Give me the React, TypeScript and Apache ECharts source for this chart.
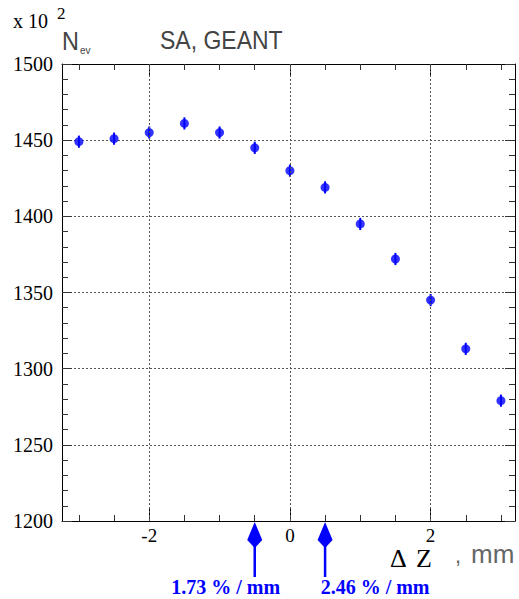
import React, { useEffect, useRef } from "react";
import * as echarts from "echarts";

const xValues = [-3, -2.5, -2, -1.5, -1, -0.5, 0, 0.5, 1, 1.5, 2, 2.5, 3];
const nEv = [1449, 1451, 1455, 1461, 1455, 1445, 1430, 1419, 1395, 1372, 1345, 1313, 1279];
const nEvErr = [4, 4, 4, 4, 4, 4, 4, 4, 4, 4, 4, 4, 4];
const xMajorTicks = [-2, 0, 2];
const xMinorTicks = [-3, -2.5, -2, -1.5, -1, -0.5, 0, 0.5, 1, 1.5, 2, 2.5, 3];
const xGrid = [-2, 0, 2];
const arrowX = [-0.5, 0.5];
const arrowLabels = ["1.73 % / mm", "2.46 % / mm"];

const X_MIN = -3.24;
const X_MAX = 3.2;
const Y_MIN = 1200;
const Y_MAX = 1500;
const BLUE = "#0000ff";
const SERIF = "Liberation Serif";
const SANS = "Liberation Sans";

export default function App() {
  const ref = useRef<HTMLDivElement>(null);

  useEffect(() => {
    if (!ref.current) return;
    const chart = echarts.init(ref.current, undefined, { renderer: "svg" });

    const baseX = {
      type: "value",
      min: X_MIN,
      max: X_MAX,
      splitLine: { show: false },
    };

    const option: any = {
      animation: false,
      backgroundColor: "#ffffff",
      textStyle: { fontFamily: SERIF },
      grid: { left: 62, top: 64, right: 4, bottom: 78, containLabel: false },
      xAxis: [
        {
          ...baseX,
          position: "bottom",
          axisLine: { show: true, onZero: false, lineStyle: { color: "#000", width: 1 } },
          axisTick: {
            show: true,
            inside: true,
            length: 12,
            customValues: xMajorTicks,
            lineStyle: { color: "#000" },
          },
          axisLabel: {
            show: true,
            customValues: xMajorTicks,
            margin: 5,
            fontFamily: SERIF,
            fontSize: 19,
            lineHeight: 19,
            color: "#000",
            formatter: (v: number) => String(v),
          },
        },
        {
          ...baseX,
          position: "bottom",
          axisLine: { show: false },
          axisTick: {
            show: true,
            inside: true,
            length: 6,
            customValues: xMinorTicks,
            lineStyle: { color: "#333" },
          },
          axisLabel: { show: false },
        },
        {
          ...baseX,
          position: "top",
          axisLine: { show: true, onZero: false, lineStyle: { color: "#000", width: 1 } },
          axisTick: {
            show: true,
            inside: true,
            length: 12,
            customValues: xMajorTicks,
            lineStyle: { color: "#000" },
          },
          axisLabel: { show: false },
        },
        {
          ...baseX,
          position: "top",
          axisLine: { show: false },
          axisTick: {
            show: true,
            inside: true,
            length: 6,
            customValues: xMinorTicks,
            lineStyle: { color: "#333" },
          },
          axisLabel: { show: false },
        },
      ],
      yAxis: [
        {
          type: "value",
          min: Y_MIN,
          max: Y_MAX,
          interval: 50,
          position: "left",
          axisLine: { show: true, onZero: false, lineStyle: { color: "#000", width: 1 } },
          axisTick: { show: true, inside: true, length: 10, lineStyle: { color: "#333" } },
          minorTick: { show: true, splitNumber: 5, length: 6, lineStyle: { color: "#333" } },
          axisLabel: {
            show: true,
            margin: 9,
            fontFamily: SERIF,
            fontSize: 20,
            color: "#000",
            formatter: (v: number) => String(v),
          },
          splitLine: {
            show: true,
            lineStyle: { color: "#555", type: [2, 2], width: 1 },
          },
        },
        {
          type: "value",
          min: Y_MIN,
          max: Y_MAX,
          interval: 50,
          position: "right",
          axisLine: { show: true, onZero: false, lineStyle: { color: "#000", width: 1 } },
          axisTick: { show: true, inside: true, length: 10, lineStyle: { color: "#333" } },
          minorTick: { show: true, splitNumber: 5, length: 6, lineStyle: { color: "#333" } },
          axisLabel: { show: false },
          splitLine: { show: false },
        },
      ],
      series: [
        {
          type: "line",
          xAxisIndex: 0,
          yAxisIndex: 0,
          data: [],
          silent: true,
          markLine: {
            silent: true,
            symbol: "none",
            label: { show: false },
            lineStyle: { color: "#555", type: [2, 2], width: 1 },
            data: xGrid.map((v) => ({ xAxis: v })),
          },
        },
        {
          type: "custom",
          xAxisIndex: 0,
          yAxisIndex: 0,
          data: xValues.map((x, i) => [x, nEv[i], nEvErr[i]]),
          renderItem: (params: any, api: any) => {
            const x = api.value(0);
            const y = api.value(1);
            const e = api.value(2);
            const lo = api.coord([x, y - e]);
            const hi = api.coord([x, y + e]);
            return {
              type: "line",
              shape: { x1: lo[0], y1: lo[1], x2: hi[0], y2: hi[1] },
              style: { stroke: BLUE, lineWidth: 2 },
            };
          },
        },
        {
          type: "scatter",
          xAxisIndex: 0,
          yAxisIndex: 0,
          symbol: "circle",
          symbolSize: 9,
          itemStyle: { color: BLUE },
          data: xValues.map((x, i) => [x, nEv[i]]),
        },
        {
          type: "custom",
          xAxisIndex: 0,
          yAxisIndex: 0,
          clip: false,
          data: arrowX.map((x, i) => [x, i]),
          renderItem: (params: any, api: any) => {
            const x = api.value(0);
            const idx = api.value(1);
            const p = api.coord([x, Y_MIN]);
            const px = p[0];
            const py = p[1];
            const labelOffset = idx === 0 ? -29 : 50;
            return {
              type: "group",
              children: [
                {
                  type: "polygon",
                  shape: {
                    points: [
                      [px, py + 1],
                      [px + 7.5, py + 19],
                      [px, py + 27],
                      [px - 7.5, py + 19],
                    ],
                  },
                  style: { fill: BLUE },
                },
                {
                  type: "line",
                  shape: { x1: px, y1: py + 20, x2: px, y2: py + 56 },
                  style: { stroke: BLUE, lineWidth: 2.5 },
                },
                {
                  type: "text",
                  x: px + labelOffset,
                  y: py + 66,
                  style: {
                    text: arrowLabels[idx],
                    fill: BLUE,
                    fontFamily: SERIF,
                    fontWeight: "bold",
                    fontSize: 20,
                    align: "center",
                    verticalAlign: "middle",
                  },
                },
              ],
            };
          },
        },
      ],
      graphic: [
        {
          type: "text",
          left: 13,
          top: 11,
          style: { text: "x 10", fontFamily: SERIF, fontSize: 20, fill: "#000" },
        },
        {
          type: "text",
          left: 57,
          top: 5,
          style: { text: "2", fontFamily: SERIF, fontSize: 17, fill: "#000" },
        },
        {
          type: "text",
          x: 62,
          y: 28,
          scaleX: 0.9,
          style: { text: "N", fontFamily: SANS, fontSize: 26, fill: "#444" },
        },
        {
          type: "text",
          left: 80,
          top: 45,
          style: { text: "ev", fontFamily: SANS, fontSize: 10, fill: "#444" },
        },
        {
          type: "text",
          x: 160,
          y: 28,
          scaleX: 0.92,
          style: { text: "SA, GEANT", fontFamily: SANS, fontSize: 25, fill: "#444" },
        },
        {
          type: "text",
          left: 390,
          top: 545,
          style: { text: "Δ", fontFamily: SERIF, fontSize: 26, lineHeight: 22, fill: "#000" },
        },
        {
          type: "text",
          left: 416,
          top: 545,
          style: { text: "Z", fontFamily: SERIF, fontSize: 26, lineHeight: 22, fill: "#000" },
        },
        {
          type: "text",
          left: 455,
          top: 544,
          style: { text: ",", fontFamily: SANS, fontSize: 22, fill: "#666" },
        },
        {
          type: "text",
          left: 471,
          top: 541,
          style: { text: "mm", fontFamily: SANS, fontSize: 26, fill: "#666" },
        },
      ],
    };

    chart.setOption(option);
    return () => {
      chart.dispose();
    };
  }, []);

  return (
    <div
      ref={ref}
      style={{ position: "absolute", left: 0, top: 0, width: 519, height: 599 }}
    />
  );
}
